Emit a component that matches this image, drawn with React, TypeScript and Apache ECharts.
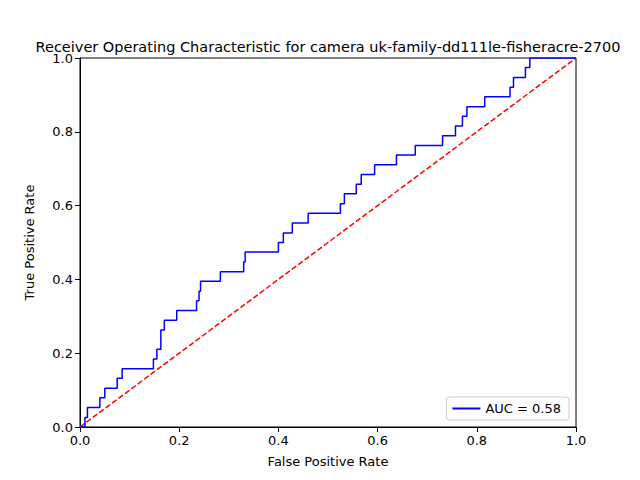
import { useEffect, useRef } from "react";
import * as echarts from "echarts";

const fpr = [
  0, 0.01, 0.01, 0.015, 0.015, 0.04, 0.04, 0.05, 0.05, 0.075, 0.075, 0.085, 0.085, 0.148, 0.148, 0.155,
  0.155, 0.163, 0.163, 0.17, 0.17, 0.195, 0.195, 0.235, 0.235, 0.24, 0.24, 0.243, 0.243, 0.283, 0.283,
  0.33, 0.33, 0.333, 0.333, 0.4, 0.4, 0.41, 0.41, 0.428, 0.428, 0.46, 0.46, 0.525, 0.525, 0.533, 0.533,
  0.557, 0.557, 0.567, 0.567, 0.594, 0.594, 0.638, 0.638, 0.676, 0.676, 0.731, 0.731, 0.757, 0.757,
  0.771, 0.771, 0.78, 0.78, 0.816, 0.816, 0.867, 0.867, 0.874, 0.874, 0.898, 0.898, 0.907, 0.907, 1,
];
const tpr = [
  0, 0, 0.026, 0.026, 0.053, 0.053, 0.079, 0.079, 0.105, 0.105, 0.132, 0.132, 0.158, 0.158, 0.184, 0.184,
  0.211, 0.211, 0.263, 0.263, 0.289, 0.289, 0.316, 0.316, 0.342, 0.342, 0.368, 0.368, 0.395, 0.395, 0.421,
  0.421, 0.447, 0.447, 0.474, 0.474, 0.5, 0.5, 0.526, 0.526, 0.553, 0.553, 0.579, 0.579, 0.605, 0.605,
  0.632, 0.632, 0.658, 0.658, 0.684, 0.684, 0.711, 0.711, 0.737, 0.737, 0.763, 0.763, 0.789, 0.789, 0.816,
  0.816, 0.842, 0.842, 0.868, 0.868, 0.895, 0.895, 0.921, 0.921, 0.947, 0.947, 0.974, 0.974, 1, 1,
];
const diagonal = [
  [0, 0],
  [1, 1],
];
const title = "Receiver Operating Characteristic for camera uk-family-dd111le-fisheracre-2700";
const aucLabel = "AUC = 0.58";

const font = "DejaVu Sans";

export default function App() {
  const ref = useRef<HTMLDivElement>(null);

  useEffect(() => {
    document.body.style.margin = "0";
    if (!ref.current) return;
    const chart = echarts.init(ref.current, null, { renderer: "svg" });

    const axisCommon = {
      min: 0,
      max: 1,
      interval: 0.2,
      axisLine: { show: true, onZero: false, lineStyle: { color: "#000", width: 1 } },
      axisTick: { show: true, length: 5, inside: false, lineStyle: { color: "#000" } },
      axisLabel: { color: "#000", fontFamily: font, fontSize: 13, margin: 7, formatter: (v: number) => v.toFixed(1) },
      splitLine: { show: false },
      nameLocation: "middle" as const,
      nameTextStyle: { color: "#000", fontFamily: font, fontSize: 13 },
    };

    chart.setOption({
      animation: false,
      grid: { left: 80, right: 64, top: 58, bottom: 53, show: true, borderColor: "#000", borderWidth: 1 },
      graphic: [
        {
          type: "text",
          x: 328,
          y: 47,
          style: { text: title, fontFamily: font, fontSize: 14.5, fill: "#000", textAlign: "center", textVerticalAlign: "middle" },
        },
      ],
      xAxis: { ...axisCommon, type: "value", name: "False Positive Rate", nameGap: 28 },
      yAxis: { ...axisCommon, type: "value", name: "True Positive Rate", nameGap: 44 },
      legend: {
        right: 71,
        bottom: 60,
        orient: "vertical",
        data: [aucLabel],
        itemWidth: 28,
        itemHeight: 2,
        icon: "rect",
        borderColor: "#ccc",
        borderWidth: 1,
        borderRadius: 3,
        padding: [5, 8, 5, 6],
        backgroundColor: "#fff",
        textStyle: { fontFamily: font, fontSize: 13, color: "#000" },
      },
      series: [
        {
          name: aucLabel,
          type: "line",
          data: fpr.map((x, i) => [x, tpr[i]]),
          showSymbol: false,
          lineStyle: { color: "#0000ff", width: 1.5 },
          itemStyle: { color: "#0000ff" },
          z: 3,
        },
        {
          name: "diag",
          type: "line",
          data: diagonal,
          showSymbol: false,
          lineStyle: { color: "#ff0000", width: 1.5, type: [5.5, 2.5] },
          z: 2,
        },
      ],
    });

    return () => chart.dispose();
  }, []);

  return <div ref={ref} style={{ width: 640, height: 480 }} />;
}
